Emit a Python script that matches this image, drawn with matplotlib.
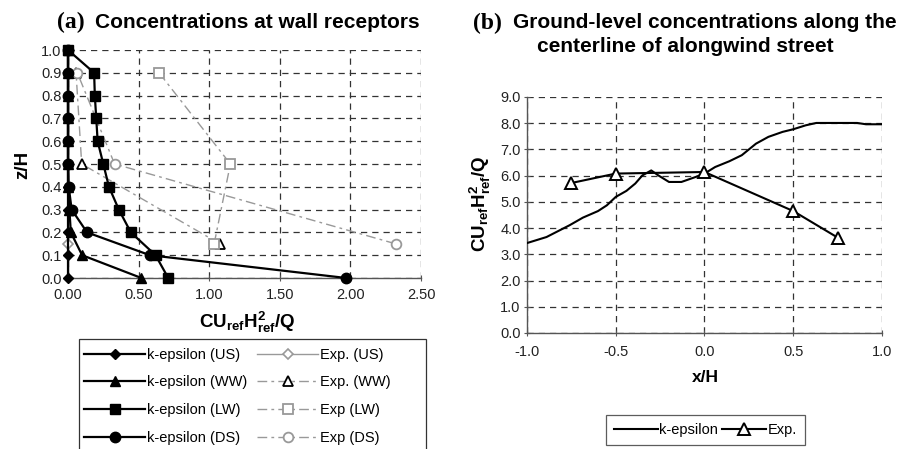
import matplotlib
matplotlib.use("Agg")
import matplotlib.pyplot as plt
from matplotlib.lines import Line2D
from matplotlib.patches import Rectangle

plt.rcParams['font.family'] = ['Liberation Sans', 'DejaVu Sans']
plt.rcParams['mathtext.fontset'] = 'custom'
plt.rcParams['mathtext.rm'] = 'Liberation Sans'
plt.rcParams['mathtext.bf'] = 'Liberation Sans:bold'
plt.rcParams['mathtext.it'] = 'Liberation Sans:italic'

# ---------------- Panel (a) data ----------------
z_levels = [0.0, 0.1, 0.2, 0.3, 0.4, 0.5, 0.6, 0.7, 0.8, 0.9, 1.0]
ke_us = [0.0, 0.0, 0.0, 0.0, 0.0, 0.0, 0.0, 0.0, 0.0, 0.0, 0.0]
ke_ww = [0.52, 0.10, 0.02, 0.01, 0.0, 0.0, 0.0, 0.0, 0.0, 0.0, 0.0]
ke_lw = [0.71, 0.62, 0.445, 0.36, 0.29, 0.25, 0.21, 0.20, 0.19, 0.185, 0.0]
ke_ds = [1.97, 0.58, 0.135, 0.026, 0.005, 0.0, 0.0, 0.0, 0.0, 0.0, 0.0]

z_exp = [0.15, 0.5, 0.9]
exp_us = [0.0, 0.0, 0.0]
exp_ww = [1.075, 0.097, 0.057]
exp_lw = [1.035, 1.15, 0.645]
exp_ds = [2.32, 0.33, 0.066]

a_xticks = [0.0, 0.5, 1.0, 1.5, 2.0, 2.5]
a_yticks = [0.0, 0.1, 0.2, 0.3, 0.4, 0.5, 0.6, 0.7, 0.8, 0.9, 1.0]

# ---------------- Panel (b) data ----------------
b_x_ke = [-1.0, -0.89, -0.76, -0.685, -0.60, -0.55, -0.50, -0.44, -0.39, -0.35,
          -0.30, -0.26, -0.20, -0.13, -0.05, 0.0, 0.06, 0.14, 0.21, 0.29, 0.36,
          0.44, 0.50, 0.57, 0.63, 0.72, 0.86, 0.91, 1.0]
b_y_ke = [3.43, 3.66, 4.11, 4.40, 4.65, 4.87, 5.19, 5.42, 5.70, 6.01,
          6.20, 6.01, 5.76, 5.76, 5.95, 6.08, 6.33, 6.55, 6.78, 7.22, 7.48,
          7.67, 7.77, 7.92, 8.01, 8.01, 8.01, 7.96, 7.96]
b_x_exp = [-0.75, -0.5, 0.0, 0.5, 0.75]
b_y_exp = [5.72, 6.08, 6.14, 4.65, 3.64]

b_xticks = [-1.0, -0.5, 0.0, 0.5, 1.0]
b_yticks = [0.0, 1.0, 2.0, 3.0, 4.0, 5.0, 6.0, 7.0, 8.0, 9.0]

W, H = 904, 449
fig = plt.figure(figsize=(W / 100, H / 100), dpi=100)

def ax_rect(l, r, t, b):
    return [l / W, 1 - b / H, (r - l) / W, (b - t) / H]

grid_kw = dict(color='#333333', linewidth=0.9, dashes=(5, 4))
spine_col = '#555555'
tick_fs = 10.5
label_fs = 13.5
title_fs = 15
paren_fs = 17

def style_axes(ax):
    for s in ['top', 'right']:
        ax.spines[s].set_visible(False)
    for s in ['left', 'bottom']:
        ax.spines[s].set_color(spine_col)
        ax.spines[s].set_linewidth(1.0)
    ax.grid(True, **grid_kw)
    ax.set_axisbelow(True)
    ax.tick_params(direction='inout', length=5, width=0.8, color=spine_col,
                   labelsize=tick_fs, labelcolor='#222222', pad=2)

# ---------------- Panel (a) ----------------
axa = fig.add_axes(ax_rect(68, 421, 50, 278))
exp_col = '#999999'
exp_ls = (0, (7, 3, 2, 3))
axa.plot(exp_us, z_exp, color=exp_col, lw=1.0, marker='D', ms=5, mfc='white',
         mec=exp_col, mew=1.2, clip_on=False, zorder=3)
axa.plot(exp_ww, z_exp, color=exp_col, lw=1.0, ls=exp_ls, marker='^', ms=7,
         mfc='white', mec='black', mew=1.3, clip_on=False, zorder=3)
axa.plot(exp_lw, z_exp, color=exp_col, lw=1.0, ls=exp_ls, marker='s', ms=7,
         mfc='white', mec=exp_col, mew=1.3, clip_on=False, zorder=3)
axa.plot(exp_ds, z_exp, color=exp_col, lw=1.0, ls=exp_ls, marker='o', ms=7,
         mfc='white', mec=exp_col, mew=1.3, clip_on=False, zorder=3)

axa.plot(ke_us, z_levels, color='black', lw=1.6, marker='D', ms=5.5,
         clip_on=False, zorder=4)
axa.plot(ke_ww, z_levels, color='black', lw=1.6, marker='^', ms=7.5,
         clip_on=False, zorder=4)
axa.plot(ke_lw, z_levels, color='black', lw=1.6, marker='s', ms=7.5,
         clip_on=False, zorder=4)
axa.plot(ke_ds, z_levels, color='black', lw=1.6, marker='o', ms=7.5,
         clip_on=False, zorder=4)

axa.set_xlim(0, 2.5)
axa.set_ylim(0, 1.0)
axa.set_xticks(a_xticks)
axa.set_xticklabels(['%.2f' % v for v in a_xticks])
axa.set_yticks(a_yticks)
axa.set_yticklabels(['%.1f' % v for v in a_yticks])
style_axes(axa)
axa.tick_params(axis='x', pad=5)

fig.text(23 / W, 1 - 165 / H, 'z/H', rotation=90, ha='center', va='center',
         fontsize=label_fs, fontweight='bold')
fig.text(247 / W, 1 - 322 / H, r'$\mathbf{CU_{ref}H^2_{ref}/Q}$',
         ha='center', va='center', fontsize=label_fs)

fig.text(57 / W, 1 - 22 / H, '(a)', family='Liberation Serif', fontweight='bold',
         fontsize=paren_fs, ha='left', va='center')
fig.text(95 / W, 1 - 22 / H, 'Concentrations at wall receptors', fontweight='bold',
         fontsize=title_fs, ha='left', va='center')

handles_a = [
    Line2D([], [], color='black', lw=1.6, marker='D', ms=5.5),
    Line2D([], [], color='black', lw=1.6, marker='^', ms=7.5),
    Line2D([], [], color='black', lw=1.6, marker='s', ms=7.5),
    Line2D([], [], color='black', lw=1.6, marker='o', ms=7.5),
    Line2D([], [], color=exp_col, lw=1.0, marker='D', ms=5, mfc='white', mec=exp_col, mew=1.2),
    Line2D([], [], color=exp_col, lw=1.0, ls=exp_ls, marker='^', ms=7, mfc='white', mec='black', mew=1.3),
    Line2D([], [], color=exp_col, lw=1.0, ls=exp_ls, marker='s', ms=7, mfc='white', mec=exp_col, mew=1.3),
    Line2D([], [], color=exp_col, lw=1.0, ls=exp_ls, marker='o', ms=7, mfc='white', mec=exp_col, mew=1.3),
]
labels_a = ['k-epsilon (US)', 'k-epsilon (WW)', 'k-epsilon (LW)', 'k-epsilon (DS)',
            'Exp. (US)', 'Exp. (WW)', 'Exp (LW)', 'Exp (DS)']
leg_a = fig.legend(handles_a, labels_a, ncol=2, loc='upper left',
                   bbox_to_anchor=(81 / W, 1 - 345 / H), fontsize=10.5,
                   handlelength=4.2, handletextpad=0.1, columnspacing=0.7,
                   labelspacing=0.93, borderpad=0.2, frameon=False,
                   borderaxespad=0)
frame_a = Rectangle((79 / W, -0.05), (426 - 79) / W, (1 - 339 / H) + 0.05,
                    transform=fig.transFigure, fill=False, edgecolor='#333333',
                    linewidth=0.9)
fig.patches.append(frame_a)

# ---------------- Panel (b) ----------------
axb = fig.add_axes(ax_rect(527, 882, 97, 333))
axb.plot(b_x_ke, b_y_ke, color='black', lw=1.5, zorder=3)
axb.plot(b_x_exp, b_y_exp, color='black', lw=1.5, marker='^', ms=8,
         mfc='white', mec='black', mew=1.4, zorder=4)
axb.set_xlim(-1.0, 1.0)
axb.set_ylim(0, 9.0)
axb.set_xticks(b_xticks)
axb.set_xticklabels(['%.1f' % v for v in b_xticks])
axb.set_yticks(b_yticks)
axb.set_yticklabels(['%.1f' % v for v in b_yticks])
style_axes(axb)
axb.tick_params(axis='x', pad=6)

fig.text(480 / W, 1 - 204 / H, r'$\mathbf{CU_{ref}H^2_{ref}/Q}$', rotation=90,
         ha='center', va='center', fontsize=label_fs)
fig.text(705 / W, 1 - 378 / H, 'x/H', ha='center', va='center', fontsize=12.5,
         fontweight='bold')

fig.text(473 / W, 1 - 23 / H, '(b)', family='Liberation Serif', fontweight='bold',
         fontsize=paren_fs, ha='left', va='center')
fig.text(513 / W, 1 - 23 / H, 'Ground-level concentrations along the',
         fontweight='bold', fontsize=title_fs, ha='left', va='center')
fig.text(685 / W, 1 - 47 / H, 'centerline of alongwind street',
         fontweight='bold', fontsize=title_fs, ha='center', va='center')

handles_b = [
    Line2D([], [], color='black', lw=1.5),
    Line2D([], [], color='black', lw=1.5, marker='^', ms=8, mfc='white', mec='black', mew=1.4),
]
leg_b = fig.legend(handles_b, ['k-epsilon', 'Exp.'], ncol=2, loc='upper left',
                   bbox_to_anchor=(606 / W, 1 - 415 / H), fontsize=10.5,
                   handlelength=3.0, handletextpad=0.1, columnspacing=0.3,
                   borderpad=0.55, fancybox=False, frameon=True,
                   edgecolor='#333333', borderaxespad=0)
leg_b.get_frame().set_linewidth(0.9)

fig.savefig('out.png', dpi=100)
